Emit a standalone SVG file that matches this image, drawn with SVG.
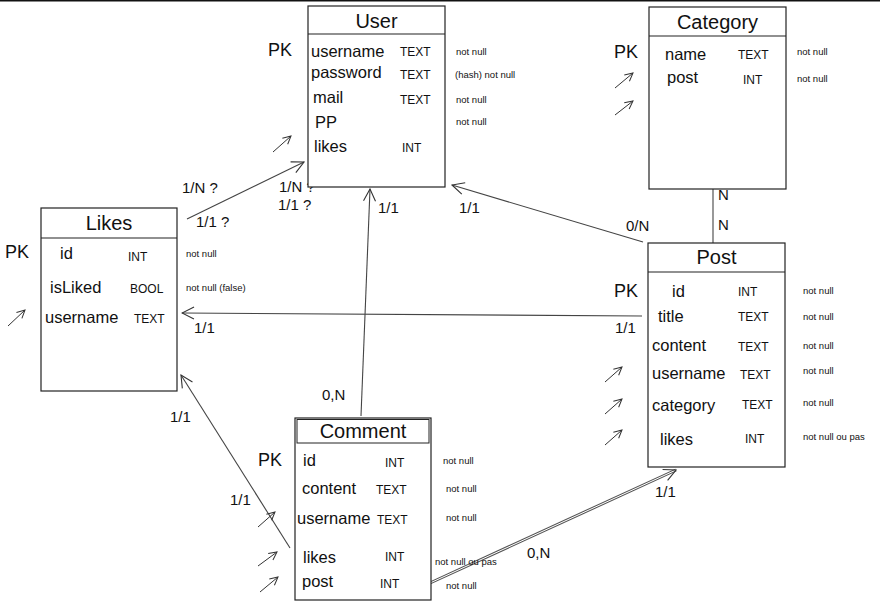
<svg xmlns="http://www.w3.org/2000/svg" width="880" height="603" viewBox="0 0 880 603">
<defs>
<marker id="ah" markerWidth="14" markerHeight="14" refX="13" refY="7" orient="auto" markerUnits="userSpaceOnUse">
<path d="M1,1 L13,7 L1,13" fill="none" stroke="#333" stroke-width="1.1"/>
</marker>
<marker id="sh" markerWidth="10" markerHeight="10" refX="9" refY="5" orient="auto" markerUnits="userSpaceOnUse">
<path d="M1,1 L9,5 L1,9" fill="none" stroke="#333" stroke-width="1"/>
</marker>
<style>
text{font-family:"Liberation Sans",Arial,sans-serif;fill:#111}
.box{fill:#fff;stroke:#222;stroke-width:1.2}
.hd{font-size:20px;text-anchor:middle}
.at{font-size:16.5px}
.ty{font-size:12px}
.nn{font-size:9.5px}
.pk{font-size:18px}
.lb{font-size:15px}
.cn{stroke:#444;stroke-width:1.1;fill:none}
.fk{stroke:#333;stroke-width:1;marker-end:url(#sh)}
</style>
</defs>
<rect x="0" y="0" width="880" height="603" fill="#fff"/>
<rect x="0" y="0" width="880" height="1.5" fill="#111"/>

<g id="connectors">
<path class="cn" d="M187,219 L304,162" marker-end="url(#ah)"/>
<path class="cn" d="M361,416 L370,189" marker-end="url(#ah)"/>
<path class="cn" d="M643,242 L452,185" marker-end="url(#ah)"/>
<path class="cn" d="M642,316 L182,313" marker-end="url(#ah)"/>
<path class="cn" d="M290,548 L181,375" marker-end="url(#ah)"/>
<path class="cn" d="M713,189 L713,243"/>
<path d="M430,583 L676,470" stroke="#555" stroke-width="3" fill="none"/>
<path d="M430,583 L676,470" stroke="#fff" stroke-width="1" fill="none"/>
<path class="cn" d="M430,583 L676,470" stroke-opacity="0" marker-end="url(#ah)"/>
<text class="lb" x="182" y="193">1/N ?</text>
<text class="lb" x="196" y="227">1/1 ?</text>
<text class="lb" x="279" y="192">1/N ?</text>
<text class="lb" x="278" y="210">1/1 ?</text>
<text class="lb" x="378" y="213">1/1</text>
<text class="lb" x="459" y="213">1/1</text>
<text class="lb" x="626" y="231">0/N</text>
<text class="lb" x="718" y="200">N</text>
<text class="lb" x="718" y="230">N</text>
<text class="lb" x="194" y="333">1/1</text>
<text class="lb" x="615" y="333">1/1</text>
<text class="lb" x="322" y="400">0,N</text>
<text class="lb" x="170" y="422">1/1</text>
<text class="lb" x="230" y="505">1/1</text>
<text class="lb" x="527" y="558">0,N</text>
<text class="lb" x="655" y="497">1/1</text>
</g>

<g id="user">
<rect class="box" x="308" y="6" width="137" height="181"/>
<line x1="308" y1="34" x2="445" y2="34" stroke="#222" stroke-width="1.2"/>
<text class="hd" x="376.5" y="28">User</text>
<text class="pk" x="268" y="56">PK</text>
<text class="at" x="311" y="57">username</text>
<text class="at" x="311" y="78">password</text>
<text class="at" x="313" y="103">mail</text>
<text class="at" x="315" y="128">PP</text>
<text class="at" x="314" y="152">likes</text>
<text class="ty" x="400" y="56">TEXT</text>
<text class="ty" x="400" y="79">TEXT</text>
<text class="ty" x="400" y="104">TEXT</text>
<text class="ty" x="402" y="152">INT</text>
<text class="nn" x="456" y="55">not null</text>
<text class="nn" x="455" y="78">(hash)  not null</text>
<text class="nn" x="456" y="103">not null</text>
<text class="nn" x="456" y="125">not null</text>
<line class="fk" x1="273" y1="152" x2="291" y2="136"/>
</g>

<g id="category">
<rect class="box" x="649" y="7" width="137" height="182"/>
<line x1="649" y1="36" x2="786" y2="36" stroke="#222" stroke-width="1.2"/>
<text class="hd" x="717.5" y="29">Category</text>
<text class="pk" x="614" y="58">PK</text>
<text class="at" x="665" y="60">name</text>
<text class="at" x="667" y="83">post</text>
<text class="ty" x="738" y="59">TEXT</text>
<text class="ty" x="743" y="84">INT</text>
<text class="nn" x="797" y="55">not null</text>
<text class="nn" x="797" y="82">not null</text>
<line class="fk" x1="615" y1="88" x2="633" y2="73"/>
<line class="fk" x1="615" y1="115" x2="633" y2="101"/>
</g>

<g id="likes">
<rect class="box" x="41" y="208" width="136" height="183"/>
<line x1="41" y1="238" x2="177" y2="238" stroke="#222" stroke-width="1.2"/>
<text class="hd" x="109" y="230">Likes</text>
<text class="pk" x="5" y="258">PK</text>
<text class="at" x="60" y="259">id</text>
<text class="at" x="50" y="293">isLiked</text>
<text class="at" x="45" y="323">username</text>
<text class="ty" x="128" y="261">INT</text>
<text class="ty" x="130" y="293">BOOL</text>
<text class="ty" x="134" y="323">TEXT</text>
<text class="nn" x="186" y="257">not null</text>
<text class="nn" x="186" y="291">not null  (false)</text>
<line class="fk" x1="8" y1="326" x2="25" y2="310"/>
</g>

<g id="post">
<rect class="box" x="648" y="243" width="137" height="224"/>
<line x1="648" y1="272" x2="785" y2="272" stroke="#222" stroke-width="1.2"/>
<text class="hd" x="716.5" y="264">Post</text>
<text class="pk" x="614" y="297">PK</text>
<text class="at" x="672" y="297">id</text>
<text class="at" x="658" y="322">title</text>
<text class="at" x="652" y="351">content</text>
<text class="at" x="652" y="379">username</text>
<text class="at" x="652" y="411">category</text>
<text class="at" x="660" y="445">likes</text>
<text class="ty" x="738" y="296">INT</text>
<text class="ty" x="738" y="321">TEXT</text>
<text class="ty" x="738" y="351">TEXT</text>
<text class="ty" x="740" y="379">TEXT</text>
<text class="ty" x="742" y="409">TEXT</text>
<text class="ty" x="745" y="443">INT</text>
<text class="nn" x="803" y="294">not null</text>
<text class="nn" x="803" y="320">not null</text>
<text class="nn" x="803" y="349">not null</text>
<text class="nn" x="803" y="374">not null</text>
<text class="nn" x="803" y="406">not null</text>
<text class="nn" x="803" y="440">not null ou pas</text>
<line class="fk" x1="605" y1="382" x2="622" y2="367"/>
<line class="fk" x1="605" y1="414" x2="622" y2="399"/>
<line class="fk" x1="605" y1="445" x2="622" y2="430"/>
</g>

<g id="comment">
<rect class="box" x="295" y="418" width="136" height="182"/>
<rect x="297" y="419.5" width="132" height="23.5" fill="none" stroke="#222" stroke-width="1"/>
<text class="hd" x="363" y="438">Comment</text>
<text class="pk" x="258" y="466">PK</text>
<text class="at" x="303" y="466">id</text>
<text class="at" x="302" y="494">content</text>
<text class="at" x="297" y="524">username</text>
<text class="at" x="303" y="563">likes</text>
<text class="at" x="302" y="587">post</text>
<text class="ty" x="385" y="467">INT</text>
<text class="ty" x="376" y="494">TEXT</text>
<text class="ty" x="377" y="524">TEXT</text>
<text class="ty" x="385" y="561">INT</text>
<text class="ty" x="380" y="588">INT</text>
<text class="nn" x="443" y="464">not null</text>
<text class="nn" x="446" y="492">not null</text>
<text class="nn" x="446" y="521">not null</text>
<text class="nn" x="435" y="565">not null ou pas</text>
<text class="nn" x="446" y="589">not null</text>
<line class="fk" x1="258" y1="527" x2="275" y2="512"/>
<line class="fk" x1="258" y1="566" x2="277" y2="552"/>
<line class="fk" x1="260" y1="592" x2="278" y2="577"/>
</g>
</svg>
